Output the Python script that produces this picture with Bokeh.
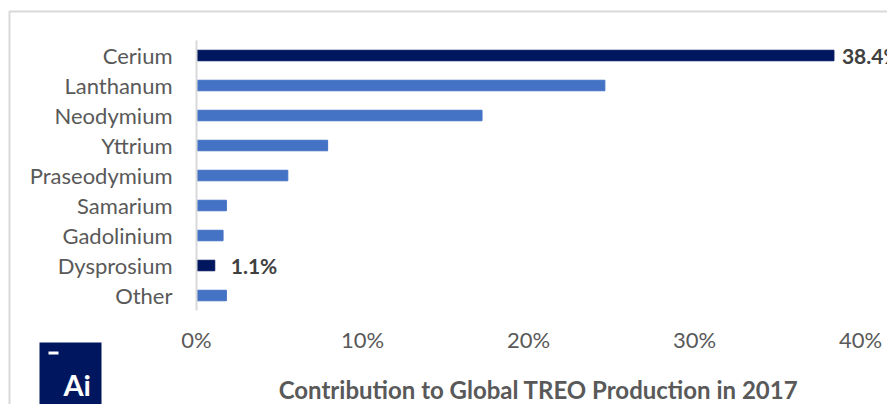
from bokeh.plotting import figure
from bokeh.models import (Range1d, FactorRange, FixedTicker, PrintfTickFormatter,
                          ColumnDataSource, Label, GridBox)
from bokeh.core.properties import value
from bokeh.embed import file_html
from bokeh.resources import INLINE

categories = ["Cerium", "Lanthanum", "Neodymium", "Yttrium", "Praseodymium",
              "Samarium", "Gadolinium", "Dysprosium", "Other"]
shares = [38.4, 24.6, 17.2, 7.9, 5.5, 1.8, 1.6, 1.1, 1.8]
highlight = ["Cerium", "Dysprosium"]
x_ticks = [0, 10, 20, 30, 40]
title_text = "Contribution to Global TREO Production in 2017"
logo_text = "Ai"

DARK = "#00175F"
LIGHT = "#4472C4"
FONT = "Lato"

W, H = 887, 404
# plot frame: 0% at x=196 px, 40% at x=860 px; frame runs on to the right edge
FL, FR40 = 196, 860
x_end = 40 * (W - FL) / (FR40 - FL)

p = figure(width=W, height=H, output_backend="svg", toolbar_location=None,
           x_range=Range1d(0, x_end), y_range=FactorRange(*reversed(categories)),
           min_border_left=FL, min_border_right=0, min_border_top=40,
           min_border_bottom=H - 310)
p.frame_align = False
p.outline_line_color = None
p.grid.visible = False
p.background_fill_color = "white"
p.border_fill_color = "white"

colors = [DARK if c in highlight else LIGHT for c in categories]
src = ColumnDataSource(dict(cat=categories, val=shares, color=colors))
p.hbar(y="cat", right="val", left=0, height=0.35, color="color", source=src)

# data labels for the highlighted bars (synthetic factor coordinate = row centre)
n = len(categories)
for cat, off in ((highlight[0], 8), (highlight[1], 16)):
    i = categories.index(cat)
    p.add_layout(Label(x=shares[i], y=n - i - 0.5, x_offset=off, text=f"{shares[i]}%",
                       text_font=FONT, text_font_style="bold", text_font_size="21px",
                       text_color="#404040", text_baseline="middle",
                       text_align="left"))

xa = p.xaxis[0]
xa.ticker = FixedTicker(ticks=x_ticks)
xa.formatter = PrintfTickFormatter(format="%d%%")
xa.axis_line_color = None
xa.major_tick_line_color = None
xa.minor_tick_line_color = None
xa.major_tick_out = 0
xa.major_tick_in = 0
xa.major_label_standoff = 15
xa.major_label_text_font = FONT
xa.major_label_text_font_size = "22px"
xa.major_label_text_color = "#595959"

ya = p.yaxis[0]
ya.axis_line_color = "#d9d9d9"
ya.axis_line_width = 2
ya.major_tick_line_color = None
ya.minor_tick_line_color = None
ya.major_tick_out = 0
ya.major_tick_in = 0
ya.major_label_standoff = 24
ya.major_label_text_font = FONT
ya.major_label_text_font_size = "22px"
ya.major_label_text_color = "#595959"

# transparent overlay in pixel coordinates for the frame line, logo and bottom title
q = figure(width=W, height=H, output_backend="svg", toolbar_location=None,
           x_range=Range1d(0, W), y_range=Range1d(H, 0),
           x_axis_type=None, y_axis_type=None,
           min_border_left=0, min_border_right=0, min_border_top=0,
           min_border_bottom=0)
q.frame_align = False
q.outline_line_color = None
q.grid.visible = False
q.background_fill_alpha = 0
q.border_fill_alpha = 0

q.line(x=[9, 9, W], y=[H, 11, 11], line_color="#d9d9d9", line_width=2)
q.quad(left=39, right=101, top=342, bottom=404, fill_color=DARK, line_color=None)
q.quad(left=48, right=58, top=351, bottom=354, fill_color="white", line_color=None)
q.text(x=[63], y=[384], text=[logo_text], text_font=value(FONT),
       text_font_style="bold", text_font_size="29px", text_color="white",
       text_baseline="alphabetic", text_align="left")
q.text(x=[538], y=[389], text=[title_text], text_font=value(FONT),
       text_font_style="bold", text_font_size="24px", text_color="#595959",
       text_baseline="alphabetic", text_align="center")

layout = GridBox(children=[(p, 0, 0), (q, 0, 0)], width=W, height=H,
                 styles={"overflow": "hidden"})
open("out.html", "w").write(file_html(layout, INLINE))
